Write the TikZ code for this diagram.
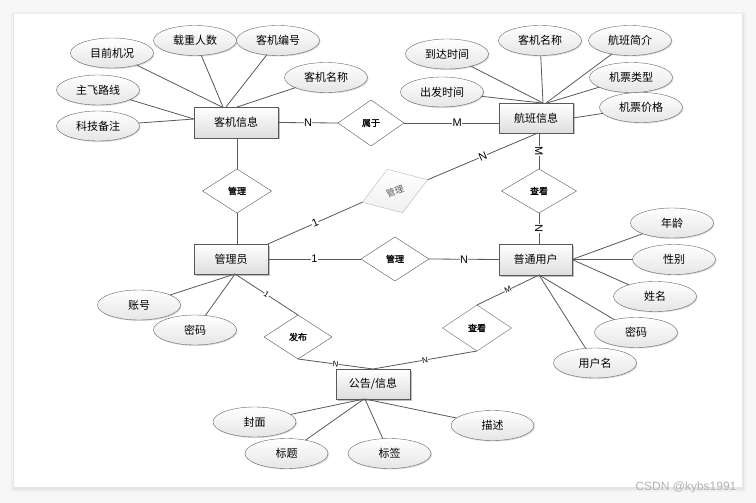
\documentclass[tikz,border=0pt]{standalone}
\usepackage{fontspec}
\setmainfont{Liberation Sans}
\newfontfamily\cjk{Noto Sans CJK SC}
\newfontfamily\cjkb[FakeBold=1.2]{Noto Sans CJK SC}
\usetikzlibrary{shapes.geometric,shadows}
\begin{document}
\begin{tikzpicture}[x=1pt,y=-1pt,
  ent/.style={draw=black!65, top color=white, bottom color=black!13, minimum width=74pt, minimum height=30pt, inner sep=0pt, outer sep=0pt,
    font=\cjk\fontsize{11}{13}\selectfont, drop shadow={shadow xshift=1.5pt, shadow yshift=-1.5pt, opacity=0.25, fill=black}},
  attr/.style={ellipse, draw=black!60, top color=white, bottom color=black!10, minimum width=83pt, minimum height=30pt, inner sep=0pt, outer sep=0pt,
    font=\cjk\fontsize{11}{13}\selectfont, drop shadow={shadow xshift=1pt, shadow yshift=-1pt, opacity=0.15, fill=black}},
  rel/.style={diamond, draw=black!65, fill=white, minimum width=68pt, minimum height=44pt, inner sep=0pt, outer sep=0pt, aspect=1.5,
    font=\cjkb\fontsize{9}{11}\selectfont},
  conn/.style={draw=black!65, line width=0.8pt},
  lab/.style={fill=white, inner sep=0.5pt, font=\fontsize{11}{12}\selectfont},
  slab/.style={fill=white, inner sep=0.3pt, font=\fontsize{8}{9}\selectfont},
]
\useasboundingbox (0,0) rectangle (756,503);
% page background
\fill[black!3] (0,0) rectangle (756,503);
\fill[black!6] (11,12) rectangle (746,492);
\fill[black!10] (13,14) rectangle (744,490);
\fill[white] (14,14) rectangle (742,487);

% entities
\node[ent, minimum width=84pt, minimum height=31pt] (kj) at (236,122.5) {客机信息};
\node[ent] (hb) at (536,118) {航班信息};
\node[ent] (gly) at (231,259) {管理员};
\node[ent, minimum width=73pt, minimum height=31pt] (yh) at (535.5,259.5) {普通用户};
\node[ent] (gg) at (373,384) {公告/信息};

% relationships
\node[rel, minimum width=66pt, minimum height=46pt] (sy) at (371,123) {属于};
\node[rel, minimum width=69pt] (gl1) at (237,191) {管理};
\node[rel, minimum width=75pt] (ck1) at (539,191) {查看};
\node[rel] (gl2) at (395,259) {管理};
\node[rel, rotate=19, draw=black!28, top color=white, bottom color=black!6, text=black!65, minimum width=69pt, minimum height=46pt, font=\cjk\fontsize{9}{11}\selectfont] (gl3) at (395,191) {管理};
\node[rel] (fb) at (298,337) {发布};
\node[rel, minimum width=69pt, minimum height=46pt] (ck2) at (477,328) {查看};

% attributes of 客机信息
\node[attr] (a1) at (112,53) {目前机况};
\node[attr] (a2) at (195,40.5) {载重人数};
\node[attr] (a3) at (278,40.5) {客机编号};
\node[attr] (a4) at (98,90) {主飞路线};
\node[attr] (a5) at (326,77.5) {客机名称};
\node[attr] (a6) at (98,126) {科技备注};
% attributes of 航班信息
\node[attr] (b1) at (447,54) {到达时间};
\node[attr] (b2) at (540,40.5) {客机名称};
\node[attr] (b3) at (630,40.5) {航班简介};
\node[attr] (b4) at (442,92) {出发时间};
\node[attr] (b5) at (631,77.5) {机票类型};
\node[attr] (b6) at (641,107.5) {机票价格};
% attributes of 普通用户
\node[attr] (c1) at (672,223) {年龄};
\node[attr] (c2) at (674,259.5) {性别};
\node[attr] (c3) at (655,296.5) {姓名};
\node[attr] (c4) at (636,332.5) {密码};
\node[attr] (c5) at (595,363) {用户名};
% attributes of 管理员
\node[attr] (d1) at (139,305) {账号};
\node[attr] (d2) at (195,330) {密码};
% attributes of 公告/信息
\node[attr] (e1) at (254.5,422) {封面};
\node[attr] (e2) at (286.5,453.5) {标题};
\node[attr] (e3) at (389.5,453.5) {标签};
\node[attr] (e4) at (492.5,425.5) {描述};

% attribute connectors
\draw[conn] (a1) -- ([xshift=-14pt]kj.north);
\draw[conn] (a2) -- ([xshift=-13pt]kj.north);
\draw[conn] (a3) -- ([xshift=-10pt]kj.north);
\draw[conn] (a5) -- ([xshift=1pt]kj.north);
\draw[conn] (a4) -- ([yshift=3.5pt]kj.west);
\draw[conn] (a6) -- ([yshift=3.5pt]kj.west);

\draw[conn] (b1) -- ([xshift=7pt]hb.north);
\draw[conn] (b2) -- ([xshift=7pt]hb.north);
\draw[conn] (b4) -- ([xshift=6pt]hb.north);
\draw[conn] (b3) -- ([xshift=10pt]hb.north);
\draw[conn] (b5) -- ([xshift=11pt]hb.north);
\draw[conn] (b6) -- (hb.east);

\draw[conn] (c1) -- (yh.east);
\draw[conn] (c2) -- (yh.east);
\draw[conn] (c3) -- (yh.east);
\draw[conn] (c4) -- ([xshift=3.5pt]yh.south);
\draw[conn] (c5) -- ([xshift=3.5pt]yh.south);

\draw[conn] (d1) -- ([xshift=4pt]gly.south);
\draw[conn] (d2) -- ([xshift=4pt]gly.south);

\draw[conn] (e1) -- ([xshift=-9pt]gg.south);
\draw[conn] (e2) -- ([xshift=-9pt]gg.south);
\draw[conn] (e3) -- ([xshift=-8pt]gg.south);
\draw[conn] (e4) -- ([xshift=-8pt]gg.south);

% relationship connectors
\draw[conn] (kj.east) -- node[lab]{N} (sy.west);
\draw[conn] (sy.east) -- node[lab, pos=0.56]{M} ([yshift=-5pt]hb.west);
\draw[conn] ([xshift=1pt]kj.south) -- (gl1.north);
\draw[conn] (gl1.south) -- ([xshift=6pt]gly.north);
\draw[conn] ([xshift=3pt]hb.south) -- node[lab, sloped]{M} (ck1.north);
\draw[conn] (ck1.south) -- node[lab, sloped]{N} ([xshift=3.5pt]yh.north);
\draw[conn] ([xshift=2pt]hb.south) -- node[lab, sloped]{N} (gl3.east);
\draw[conn] (gly.north east) -- node[lab, sloped]{1} (gl3.west);
\draw[conn] (gly.east) -- node[lab]{1} (gl2.west);
\draw[conn] (gl2.east) -- node[lab]{N} (yh.west);
\draw[conn] ([xshift=4pt]gly.south) -- node[slab, sloped]{1} (fb.north);
\draw[conn] (fb.south) -- node[slab, sloped]{N} (gg.north);
\draw[conn] (ck2.south) -- node[slab, sloped]{N} (gg.north);
\draw[conn] (ck2.north) -- node[slab, sloped]{M} ([xshift=3.5pt]yh.south);

% watermark
\node[font=\fontsize{12}{14}\selectfont, text=black!30, inner sep=0pt] (wm) at (686,487) {CSDN @kybs1991};
\end{tikzpicture}
\end{document}
